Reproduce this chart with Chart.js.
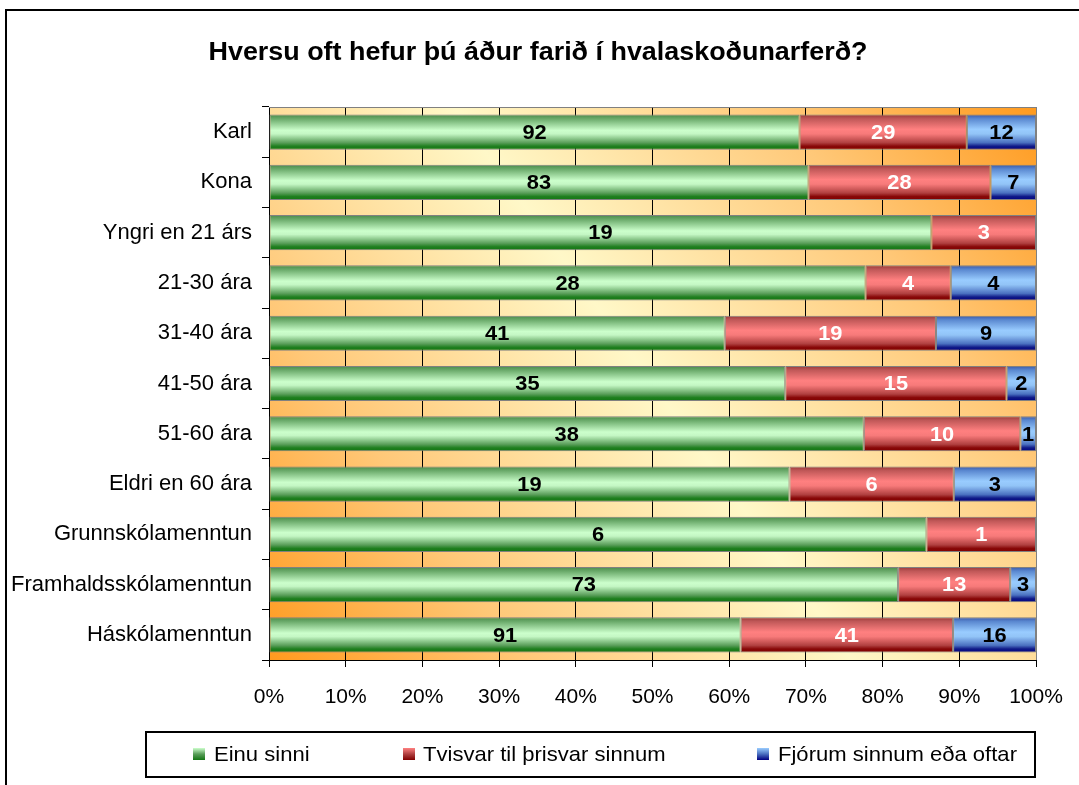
<!DOCTYPE html>
<html><head><meta charset="utf-8">
<script src="https://cdn.jsdelivr.net/npm/chart.js@4.4.1/dist/chart.umd.min.js"></script>
<style>
html,body{margin:0;padding:0;background:#fff;overflow:hidden;width:1079px;height:785px;}
#frame{position:absolute;left:5px;top:9px;width:1100px;height:800px;border:2px solid #000;box-sizing:border-box;}
#wrap{position:absolute;left:0;top:0;width:1079px;height:785px;}
</style></head><body>
<div id="frame"></div>
<div id="wrap"><canvas id="c" width="1079" height="785"></canvas></div>
<script>
const chartTitle = 'Hversu oft hefur þú áður farið í hvalaskoðunarferð?';
const categories = ['Karl','Kona','Yngri en 21 árs','21-30 ára','31-40 ára','41-50 ára','51-60 ára','Eldri en 60 ára','Grunnskólamenntun','Framhaldsskólamenntun','Háskólamenntun'];
const seriesNames = ['Einu sinni','Tvisvar til þrisvar sinnum','Fjórum sinnum eða oftar'];
const einuSinni = [92,83,19,28,41,35,38,19,6,73,91];
const tvisvar   = [29,28,3,4,19,15,10,6,1,13,41];
const fjorum    = [12,7,0,4,9,2,1,3,0,3,16];
const xTickLabels = ['0%','10%','20%','30%','40%','50%','60%','70%','80%','90%','100%'];

const counts = [einuSinni, tvisvar, fjorum];
const totals = categories.map((_, i) => counts.reduce((s, a) => s + a[i], 0));
const toPct = arr => arr.map((v, i) => v / totals[i] * 100);

const FONT = '"Liberation Sans", Arial, sans-serif';

const gradStops = [
  [[0,'#4a8a4a'],[0.12,'#6aaa6a'],[0.45,'#ccffcc'],[0.55,'#c4f7c4'],[0.8,'#5a9e5a'],[0.9,'#1f7f1f'],[1,'#137513']],
  [[0,'#9a3a3a'],[0.12,'#c05858'],[0.42,'#ff8080'],[0.55,'#f77a7a'],[0.8,'#b04040'],[0.9,'#880808'],[1,'#800000']],
  [[0,'#3a58a8'],[0.12,'#5a88d0'],[0.42,'#99ccff'],[0.55,'#92c4f7'],[0.8,'#4a70c0'],[0.9,'#101a88'],[1,'#000080']]
];
const labelColors = ['#000','#fff','#000'];

function barFill(dsIndex) {
  return function(ctx) {
    const chart = ctx.chart;
    const y = chart.scales && chart.scales.y;
    if (!y || ctx.dataIndex === undefined || !chart.chartArea) return gradStops[dsIndex][2][1];
    const yc = y.getPixelForValue(ctx.dataIndex);
    const band = (y.bottom - y.top) / categories.length;
    const h = band * 0.7;
    const g = chart.ctx.createLinearGradient(0, yc - h / 2, 0, yc + h / 2);
    gradStops[dsIndex].forEach(s => g.addColorStop(s[0], s[1]));
    return g;
  };
}

const datasets = seriesNames.map((name, k) => ({
  label: name,
  data: toPct(counts[k]),
  counts: counts[k],
  backgroundColor: barFill(k),
  borderColor: '#808080',
  borderWidth: 1,
  borderSkipped: false,
  barPercentage: 0.7,
  categoryPercentage: 1.0
}));

function stretchedText(c, text, x, y, sx) {
  c.save();
  c.translate(x, y);
  c.scale(sx, 1);
  c.fillText(text, 0, 0);
  c.restore();
}

const decorPlugin = {
  id: 'decor',
  beforeDraw(chart) {
    const c = chart.ctx, a = chart.chartArea;
    c.save();
    const g = c.createLinearGradient(a.right, a.top, a.left, a.bottom);
    g.addColorStop(0, '#ff9a1e');
    g.addColorStop(0.22, '#ffc878');
    g.addColorStop(0.5, '#fff8c8');
    g.addColorStop(0.78, '#ffc878');
    g.addColorStop(1, '#ff9a1e');
    c.fillStyle = g;
    c.fillRect(a.left, a.top, a.right - a.left, a.bottom - a.top);
    c.restore();
  },
  afterDatasetsDraw(chart) {
    const c = chart.ctx, a = chart.chartArea;
    c.save();
    c.strokeStyle = '#808080';
    c.lineWidth = 1;
    c.beginPath();
    c.moveTo(a.left, a.top + 0.5); c.lineTo(a.right + 0.5, a.top + 0.5);
    c.lineTo(a.right + 0.5, a.bottom);
    c.stroke();
    // data labels
    c.font = 'bold 21px ' + FONT;
    c.textAlign = 'center';
    c.textBaseline = 'middle';
    chart.data.datasets.forEach((ds, k) => {
      const meta = chart.getDatasetMeta(k);
      meta.data.forEach((el, i) => {
        const v = ds.counts[i];
        if (!v) return;
        c.fillStyle = labelColors[k];
        stretchedText(c, String(v), (el.x + el.base) / 2, el.y + 1, 1.04);
      });
    });
    c.restore();
  },
  afterDraw(chart) {
    const c = chart.ctx;
    c.save();
    // title
    c.fillStyle = '#000';
    c.font = 'bold 25px ' + FONT;
    c.textAlign = 'center';
    c.textBaseline = 'middle';
    const tw = c.measureText(chartTitle).width;
    stretchedText(c, chartTitle, 538, 53, 659 / tw);
    // legend box
    c.strokeStyle = '#000';
    c.lineWidth = 2;
    c.strokeRect(146, 732, 889, 45);
    const items = [[193, 214], [403, 423], [757, 778]];
    c.font = '21px ' + FONT;
    c.textAlign = 'left';
    seriesNames.forEach((name, k) => {
      const [sx, tx] = items[k];
      const g = c.createLinearGradient(0, 748, 0, 760);
      const st = gradStops[k];
      g.addColorStop(0, st[2][1]);
      g.addColorStop(0.5, st[4][1]);
      g.addColorStop(1, st[6][1]);
      c.fillStyle = g;
      c.fillRect(sx, 748, 12, 12);
      c.fillStyle = '#000';
      stretchedText(c, name, tx, 755, 1.05);
    });
    c.restore();
  }
};

new Chart(document.getElementById('c'), {
  type: 'bar',
  data: { labels: categories, datasets },
  options: {
    indexAxis: 'y',
    responsive: false,
    animation: false,
    layout: { padding: { top: 107, right: 43, left: 0, bottom: 65 } },
    plugins: { legend: { display: false }, title: { display: false }, tooltip: { enabled: false } },
    scales: {
      x: {
        type: 'linear', stacked: true, min: 0, max: 100,
        afterBuildTicks(s) { s.ticks = xTickLabels.map((_, i) => ({ value: i * 10 })); },
        afterFit(s) { s.height = 60; s.paddingLeft = 0; s.paddingRight = 0; },
        ticks: {
          color: '#000', font: { family: FONT, size: 21 }, padding: 18, maxRotation: 0,
          callback: (v, i) => xTickLabels[i]
        },
        grid: {
          color: ctx => (ctx.index === 10 ? '#808080' : '#000'),
          tickColor: '#000', lineWidth: 1, tickLength: 7, drawOnChartArea: true
        },
        border: { display: true, color: '#000', width: 1 }
      },
      y: {
        type: 'category', stacked: true,
        afterFit(s) { s.width = 269; s.paddingTop = 0; s.paddingBottom = 0; },
        ticks: { color: '#000', font: { family: FONT, size: 22 }, padding: 10 },
        grid: { offset: true, drawOnChartArea: false, tickLength: 7, color: '#000', tickColor: '#000' },
        border: { display: true, color: '#000', width: 1 }
      }
    }
  },
  plugins: [decorPlugin]
});
</script>
</body></html>
